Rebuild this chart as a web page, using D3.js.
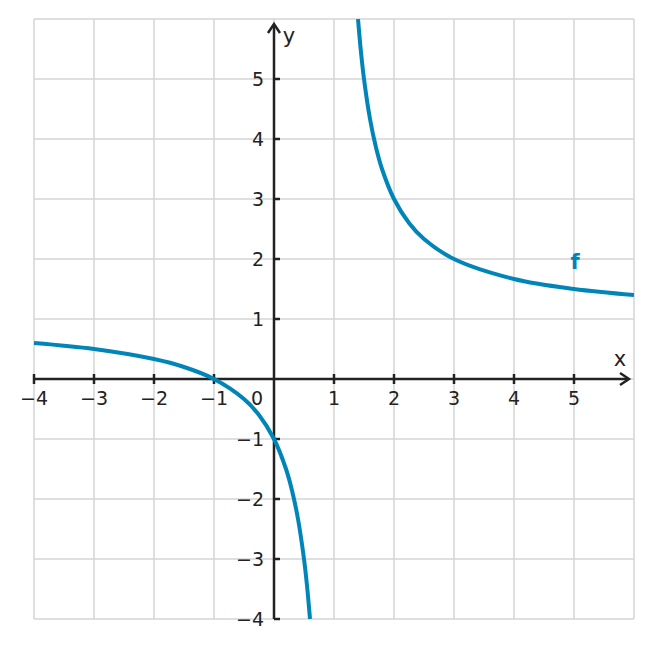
<!DOCTYPE html>
<html><head><meta charset="utf-8">
<script src="https://cdn.jsdelivr.net/npm/d3@7"></script>
<style>body{margin:0;background:#fff}</style>
</head><body>
<svg id="c" width="653" height="648"></svg>
<script>
// points
const leftX = [-4, -3, -2, -1.5, -1, -0.5, -0.25, 0, 0.2, 0.3, 0.4, 0.5, 0.55, 0.6];
const leftY = [0.6, 0.5, 0.333, 0.2, 0, -0.333, -0.6, -1, -1.5, -1.857, -2.333, -3, -3.444, -4];
const rightX = [1.4, 1.45, 1.5, 1.6, 1.7, 1.8, 2, 2.25, 2.5, 3, 4, 5, 6];
const rightY = [6, 5.444, 5, 4.333, 3.857, 3.5, 3, 2.6, 2.333, 2, 1.667, 1.5, 1.4];
const xTicks = [-4, -3, -2, -1, 0, 1, 2, 3, 4, 5];
const yTicks = [-4, -3, -2, -1, 1, 2, 3, 4, 5];
const gridVals = d3.range(-4, 7);

const svg = d3.select('#c');
const x = d3.scaleLinear().domain([-4, 6]).range([34, 634]);
const y = d3.scaleLinear().domain([-4, 6]).range([619, 19]);
const fmt = d => d < 0 ? '\u2212' + Math.abs(d) : String(d);
const font = '"DejaVu Sans", sans-serif';

// grid
svg.append('g').selectAll('line').data(gridVals).join('line')
  .attr('x1', d => x(d)).attr('x2', d => x(d)).attr('y1', y(6)).attr('y2', y(-4))
  .attr('stroke', '#d4d4d4').attr('stroke-width', 1.5);
svg.append('g').selectAll('line').data(gridVals).join('line')
  .attr('y1', d => y(d)).attr('y2', d => y(d)).attr('x1', x(-4)).attr('x2', x(6))
  .attr('stroke', '#d4d4d4').attr('stroke-width', 1.5);

// axes
const ax = '#222';
svg.append('line').attr('x1', x(-4)).attr('x2', 628).attr('y1', y(0)).attr('y2', y(0))
  .attr('stroke', ax).attr('stroke-width', 2.5);
svg.append('line').attr('x1', x(0)).attr('x2', x(0)).attr('y1', y(-4)).attr('y2', 25)
  .attr('stroke', ax).attr('stroke-width', 2.5);
svg.append('path').attr('d', `M${620},${y(0)-6} L${629},${y(0)} L${620},${y(0)+6}`)
  .attr('fill', 'none').attr('stroke', ax).attr('stroke-width', 2.5);
svg.append('path').attr('d', `M${x(0)-6},${33} L${x(0)},${24} L${x(0)+6},${33}`)
  .attr('fill', 'none').attr('stroke', ax).attr('stroke-width', 2.5);

svg.append('g').selectAll('line').data(xTicks.filter(d => d !== 0)).join('line')
  .attr('x1', d => x(d)).attr('x2', d => x(d)).attr('y1', y(0) - 5).attr('y2', y(0) + 5)
  .attr('stroke', ax).attr('stroke-width', 2.5);
svg.append('g').selectAll('line').data(yTicks).join('line')
  .attr('x1', x(0)).attr('x2', x(0) + 6).attr('y1', d => y(d)).attr('y2', d => y(d))
  .attr('stroke', ax).attr('stroke-width', 2.5);

svg.append('g').selectAll('text').data(xTicks).join('text')
  .attr('x', d => d === 0 ? x(0) - 17 : x(d)).attr('y', y(0) + 26)
  .attr('text-anchor', 'middle').attr('font-family', font).attr('font-size', 19).attr('fill', ax)
  .text(fmt);
svg.append('g').selectAll('text').data(yTicks).join('text')
  .attr('x', x(0) - 10).attr('y', d => y(d) + 7)
  .attr('text-anchor', 'end').attr('font-family', font).attr('font-size', 19).attr('fill', ax)
  .text(fmt);
svg.append('text').attr('x', 620).attr('y', 366).attr('text-anchor', 'middle')
  .attr('font-family', font).attr('font-size', 21).attr('fill', ax).text('x');
svg.append('text').attr('x', 289).attr('y', 43).attr('text-anchor', 'middle')
  .attr('font-family', font).attr('font-size', 21).attr('fill', ax).text('y');

// curve
const blue = '#0085b9';
const line = d3.line().x(d => x(d[0])).y(d => y(d[1])).curve(d3.curveCatmullRom);
svg.append('defs').append('clipPath').attr('id', 'clip').append('rect')
  .attr('x', x(-4)).attr('y', y(6)).attr('width', 600).attr('height', 600);
[[leftX, leftY], [rightX, rightY]].forEach(([xs, ys]) => {
  svg.append('path').datum(d3.zip(xs, ys)).attr('d', line).attr('clip-path', 'url(#clip)')
    .attr('fill', 'none').attr('stroke', blue).attr('stroke-width', 4);
});
svg.append('text').attr('x', 575).attr('y', 269).attr('text-anchor', 'middle')
  .attr('font-family', font).attr('font-size', 21).attr('font-weight', 'bold').attr('fill', blue).text('f');
</script>
</body></html>
